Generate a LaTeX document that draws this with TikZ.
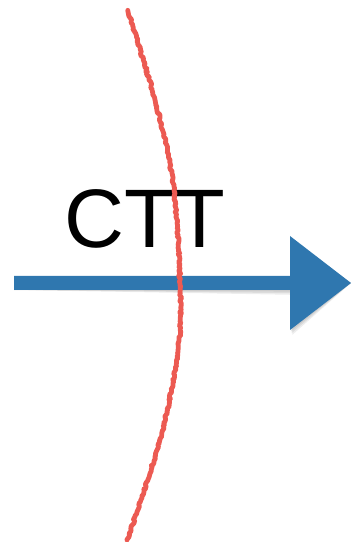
\documentclass[tikz,border=0pt]{standalone}
\usepackage{fontspec}
\setmainfont{Liberation Sans}
\usetikzlibrary{decorations.pathmorphing,calc}
\definecolor{arrowblue}{HTML}{2F77AF}
\definecolor{cutred}{HTML}{EC5A52}
\tikzset{
  cutline/.style={draw=cutred, line width=4.8pt, line cap=round, line join=round,
    decorate, decoration={random steps, segment length=1.8pt, amplitude=1pt}},
  bigarrow/.style={fill=arrowblue, draw=none, line join=round},
  arrowshadow/.style={fill=black, opacity=0.07, draw=none},
  label/.style={font=\fontsize{83}{90}\selectfont, inner sep=0pt, anchor=base}
}
\begin{document}
\begin{tikzpicture}[x=1pt,y=1pt]
\useasboundingbox (0,0) rectangle (351,542);
\pgfmathsetseed{7}
% arrow coordinates
\coordinate (tail) at (14,259);
\coordinate (tip) at (351,259);
% soft shadow
\foreach \d in {1,2,3}{
  \fill[arrowshadow, shift={(\d*0.8,-\d*1.6)}] ($(tail)+(0,7)$) -- (290,266) -- (290,306) -- (tip) -- (290,212) -- (290,252) -- ($(tail)+(0,-7)$) -- cycle;
}
% arrow
\fill[bigarrow] ($(tail)+(0,7)$) -- (290,266) -- (290,306) -- (tip) -- (290,212) -- (290,252) -- ($(tail)+(0,-7)$) -- cycle;
% label
\node[label] (ctt) at (145,294) {CTT};
% red cut line
\draw[cutline] plot[smooth, tension=0.6] coordinates {(128,530) (155,442) (173,359) (180,259) (178,192) (160,102) (127,2)};
\end{tikzpicture}
\end{document}
